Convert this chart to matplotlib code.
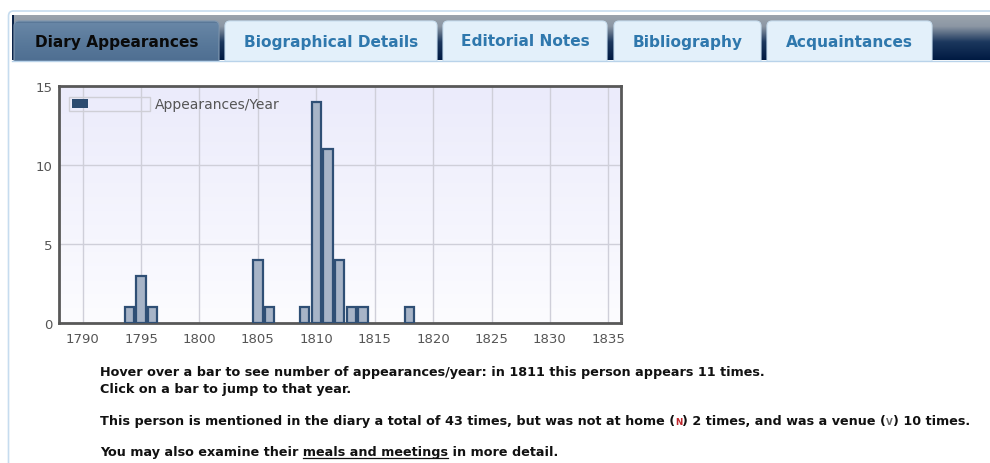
import numpy as np
import matplotlib
matplotlib.use("Agg")
import matplotlib.pyplot as plt
from matplotlib.patches import Rectangle, FancyBboxPatch
from matplotlib.colors import LinearSegmentedColormap

# appearances per year
years = [1794, 1795, 1796, 1805, 1806, 1809, 1810, 1811, 1812, 1813, 1814, 1818]
counts = [1, 3, 1, 4, 1, 1, 14, 11, 4, 1, 1, 1]
x_ticks = [1790, 1795, 1800, 1805, 1810, 1815, 1820, 1825, 1830, 1835]
y_ticks = [0, 5, 10, 15]
tabs = ["Diary Appearances", "Biographical Details", "Editorial Notes",
        "Bibliography", "Acquaintances"]
tab_edges = [(14, 219), (225, 437), (443, 607), (614, 761), (767, 932)]
legend_label = "Appearances/Year"

W, H = 990, 464
fig = plt.figure(figsize=(W / 100, H / 100), dpi=100)
fig.patch.set_facecolor("white")

# page background axes, pixel coordinates
page = fig.add_axes([0, 0, 1, 1], zorder=0)
page.set_xlim(0, W)
page.set_ylim(H, 0)
page.axis("off")

def vgrad(ax, x0, x1, y0, y1, colors, z=1):
    cmap = LinearSegmentedColormap.from_list("g", colors)
    ax.imshow(np.linspace(0, 1, 200).reshape(-1, 1), extent=[x0, x1, y1, y0],
              aspect="auto", cmap=cmap, zorder=z, interpolation="bilinear")

# container outline
page.add_patch(FancyBboxPatch((8.5, 12), 1100, 600, boxstyle="round,pad=0,rounding_size=5",
                              fc="white", ec="#c6dcef", lw=1.2, zorder=0.5))
# tab band
vgrad(page, 12, W, 16, 61, [(0, "#9ba3ad"), (0.25, "#8c97a4"), (0.6, "#1b375d"),
                            (1, "#001a42")], z=1)
page.add_patch(Rectangle((12, 16), 1.5, 45, fc="#0b2348", ec="none", zorder=1.1))

for i, (lab, (x0, x1)) in enumerate(zip(tabs, tab_edges)):
    if i == 0:
        fc, tc = "#5a7898", "#0a0a0a"
    else:
        fc, tc = "#e3f0fa", "#2f78ad"
    page.add_patch(FancyBboxPatch((x0, 22), x1 - x0, 48, boxstyle="round,pad=0,rounding_size=5",
                                  fc=fc, ec="#7f97b0" if i == 0 else "#c9dff0", lw=0.8, zorder=2))
    if i == 0:
        vgrad(page, x0 + 1, x1 - 1, 24, 61, ["#6886a6", "#5a7a9b", "#4f6f92"], z=2.1)
    page.text((x0 + x1) / 2, 42, lab, ha="center", va="center", fontsize=11.1,
              fontweight="bold", color=tc, zorder=3)

# cover below band
page.add_patch(Rectangle((9.5, 61.5), W, 20, fc="white", ec="none", zorder=2.5))
page.plot([12, W], [61.5, 61.5], color="#b9d3ea", lw=1, zorder=2.6)

# chart axes
L, R, T, B = 59.3, 620.7, 86.7, 324.3
ax = fig.add_axes([L / W, 1 - B / H, (R - L) / W, (B - T) / H], zorder=5)
xmin, xmax = 1788, 1836.06
cmap = LinearSegmentedColormap.from_list("bg", ["#fcfcff", "#ebebfb"])
ax.imshow(np.linspace(0, 1, 200).reshape(-1, 1), extent=[xmin, xmax, 0, 15],
          aspect="auto", cmap=cmap, origin="lower", zorder=0)
ax.bar(years, counts, width=0.8, color="#a7b4c7", edgecolor="#2f4f75",
       linewidth=1.6, zorder=3)
ax.set_xlim(xmin, xmax)
ax.set_ylim(0, 15)
ax.set_xticks(x_ticks)
ax.set_yticks(y_ticks)
ax.grid(True, color="#cfcfd9", lw=1, zorder=1)
ax.set_axisbelow(True)
ax.tick_params(length=0, labelsize=9.5, labelcolor="#555555")
ax.tick_params(axis="x", pad=6)
ax.tick_params(axis="y", pad=5)
for s in ax.spines.values():
    s.set_color("#585858")
    s.set_linewidth(2)

# overlay for legend and texts
ov = fig.add_axes([0, 0, 1, 1], zorder=10)
ov.set_xlim(0, W)
ov.set_ylim(H, 0)
ov.axis("off")
ov.patch.set_alpha(0)

ov.add_patch(Rectangle((69, 97.5), 81, 14, fc="none", ec="#cfcfd6", lw=1))
ov.add_patch(Rectangle((71.5, 100), 16, 9, fc="#2c4b70", ec="none"))
ov.text(155, 105, legend_label, ha="left", va="center", fontsize=10, color="#555555")

fig.canvas.draw()
rend = fig.canvas.get_renderer()

def segments(x, y, segs):
    for s, kw in segs:
        t = ov.text(x, y, s, ha="left", va="baseline", **kw)
        x += t.get_window_extent(rend).width
    return x

body = dict(fontsize=9.2, fontweight="bold", color="#111111")
ov.text(100, 376, "Hover over a bar to see number of appearances/year: in 1811 this person appears 11 times.",
        ha="left", va="baseline", **body)
ov.text(100, 393, "Click on a bar to jump to that year.", ha="left", va="baseline", **body)
segments(100, 425, [
    ("This person is mentioned in the diary a total of 43 times, but was not at home (", body),
    ("N", dict(fontsize=6.3, fontweight="bold", color="#c0272d")),
    (") 2 times, and was a venue (", body),
    ("V", dict(fontsize=6.3, fontweight="bold", color="#666666")),
    (") 10 times.", body),
])
line4 = "You may also examine their meals and meetings in more detail."
ov.text(100, 456, line4, ha="left", va="baseline", **body)

def tw(s):
    t = ov.text(0, 0, s, **body)
    w = t.get_window_extent(rend).width
    t.remove()
    return w

u0 = 100 + tw("You may also examine their m") - tw("m")
u1 = 100 + tw("You may also examine their meals and meetings")
ov.plot([u0, u1], [458.5, 458.5], color="#111111", lw=0.9)

fig.savefig("out.png", dpi=100)
